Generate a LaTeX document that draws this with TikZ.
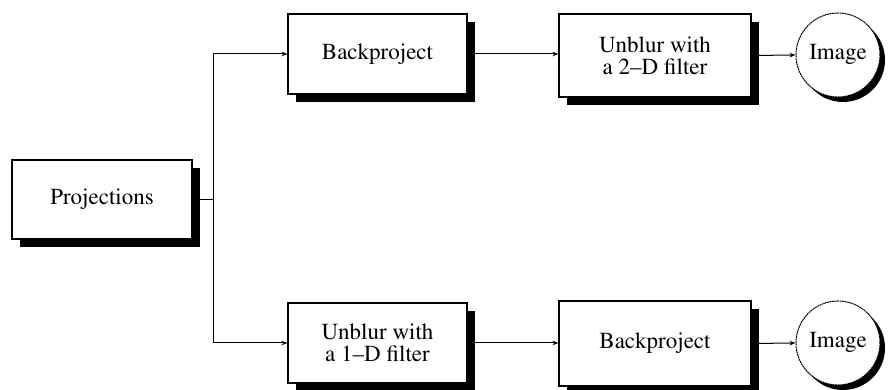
\documentclass[tikz,border=0pt]{standalone}
\usepackage[T1]{fontenc}
\usepackage{mathptmx}
\usetikzlibrary{arrows.meta,shadows}
\begin{document}
\begin{tikzpicture}[x=1pt,y=1pt,
  box/.style={draw=black,line width=1.1pt,fill=white,inner sep=0pt,align=center,
    font=\fontsize{23}{22}\selectfont,
    drop shadow={shadow xshift=8pt,shadow yshift=-8pt,fill=black,opacity=1}},
  img/.style={draw=black,line width=1pt,dashed,dash pattern=on 2pt off 0.6pt,fill=white,circle,minimum size=84pt,inner sep=0pt,
    font=\fontsize{23}{22}\selectfont,
    drop shadow={shadow xshift=5pt,shadow yshift=-5pt,fill=black,opacity=1}},
  conn/.style={line width=1pt,-{Stealth[length=6pt,width=4.5pt]}},
  plain/.style={line width=1pt}]
\useasboundingbox (0,0) rectangle (889,390);
\node[box,minimum width=180pt,minimum height=79pt] (proj) at (102,190.5) {Projections};
\node[box,minimum width=179pt,minimum height=80pt] (bp1) at (377.5,336) {Backproject};
\node[box,minimum width=192pt,minimum height=83pt] (ub2) at (655,334.5) {Unblur with\\a 2--D filter};
\node[img] (im1) at (838,335) {Image};
\node[box,minimum width=179pt,minimum height=80pt] (ub1) at (377.5,47) {Unblur with\\a 1--D filter};
\node[box,minimum width=192pt,minimum height=85pt] (bp2) at (655,46.5) {Backproject};
\node[img] (im2) at (838,47) {Image};
\coordinate (split) at (213,190.5);
\draw[plain] (proj.east) -- (split);
\draw[conn] (split) |- (bp1.west);
\draw[conn] (split) |- (ub1.west);
\draw[conn] (bp1.east) -- (bp1.east -| ub2.west);
\draw[conn] (ub2.east) -- (im1.west);
\draw[conn] (ub1.east) -- (ub1.east -| bp2.west);
\draw[conn] (bp2.east) -- (im2.west);
\end{tikzpicture}
\end{document}
